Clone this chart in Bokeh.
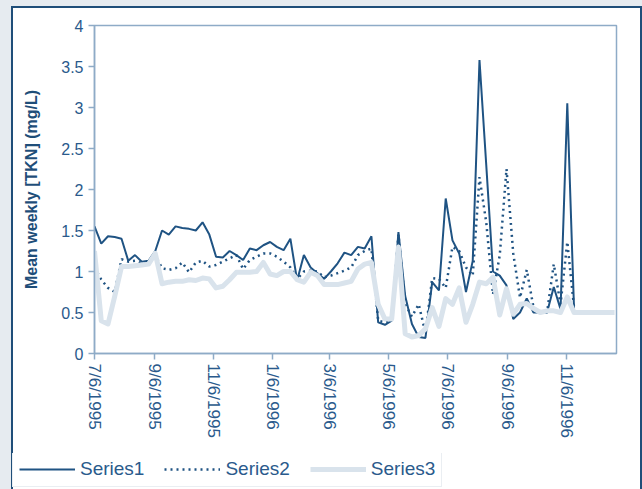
import pandas as pd
from bokeh.plotting import figure
from bokeh.layouts import column
from bokeh.models import Range1d, FixedTicker, Legend, LegendItem, ColumnDataSource
from bokeh.embed import file_html
from bokeh.resources import INLINE

# ---------------- data ----------------
start_date = "1995-07-06"
n_weeks = 78
tick_labels = ["7/6/1995", "9/6/1995", "11/6/1995", "1/6/1996", "3/6/1996",
               "5/6/1996", "7/6/1996", "9/6/1996", "11/6/1996"]
y_ticks = [0, 0.5, 1, 1.5, 2, 2.5, 3, 3.5, 4]
y_tick_labels = ["0", "0.5", "1", "1.5", "2", "2.5", "3", "3.5", "4"]
series_names = ["Series1", "Series2", "Series3"]

series1 = [1.55, 1.34, 1.43, 1.42, 1.40, 1.13, 1.20, 1.12, 1.13, 1.25,
           1.50, 1.45, 1.55, 1.53, 1.52, 1.50, 1.60, 1.45, 1.18, 1.17,
           1.25, 1.20, 1.14, 1.28, 1.26, 1.32, 1.36, 1.30, 1.26, 1.40,
           0.89, 1.20, 1.05, 0.98, 0.91, 1.00, 1.10, 1.23, 1.20, 1.30,
           1.28, 1.43, 0.38, 0.35, 0.40, 1.48, 0.70, 0.36, 0.20, 0.19,
           0.87, 0.77, 1.89, 1.38, 1.22, 0.75, 1.13, 3.58, 2.30, 1.00,
           0.95, 0.83, 0.42, 0.50, 0.67, 0.50, 0.50, 0.50, 0.81, 0.54,
           3.05, 0.54]
series2 = [1.05, 0.90, 0.80, 0.75, 1.15, 1.12, 1.13, 1.10, 1.12, 1.20,
           1.04, 1.02, 1.04, 1.11, 0.99, 1.11, 1.13, 1.06, 1.08, 1.12,
           1.16, 1.20, 1.03, 1.14, 1.18, 1.22, 1.22, 1.18, 1.12, 1.05,
           0.91, 1.00, 1.01, 1.00, 0.93, 0.95, 0.98, 1.01, 1.05, 1.20,
           1.25, 1.28, 0.40, 0.38, 0.40, 1.45, 0.60, 0.45, 0.60, 0.25,
           0.92, 0.91, 0.80, 1.30, 1.25, 1.05, 0.95, 2.15, 1.60, 0.72,
           1.20, 2.25, 1.22, 0.68, 1.02, 0.56, 0.50, 0.50, 1.09, 0.60,
           1.36, 0.56]
series3 = [1.25, 0.40, 0.36, 0.70, 1.06, 1.06, 1.07, 1.08, 1.09, 1.22,
           0.85, 0.87, 0.88, 0.88, 0.90, 0.89, 0.92, 0.91, 0.80, 0.82,
           0.90, 0.99, 0.99, 0.99, 1.00, 1.11, 0.97, 0.95, 1.00, 1.00,
           0.90, 0.87, 0.99, 0.95, 0.84, 0.84, 0.84, 0.86, 0.88, 1.03,
           1.09, 1.11, 0.60, 0.42, 0.42, 1.30, 0.24, 0.20, 0.22, 0.30,
           0.56, 0.33, 0.67, 0.60, 0.80, 0.38, 0.60, 0.87, 0.85, 0.93,
           0.47, 0.79, 0.48, 0.60, 0.61, 0.55, 0.50, 0.52, 0.52, 0.50,
           0.69, 0.50, 0.50, 0.50, 0.50, 0.50, 0.50, 0.50]
x_end_date = "1996-12-28"

# ---------------- derived positions ----------------
t0 = pd.Timestamp(start_date)
dates = pd.date_range(start_date, periods=n_weeks, freq="7D")
xdays = [int((d - t0).days) for d in dates]
tick_days = [int((pd.to_datetime(t, format="%m/%d/%Y") - t0).days) for t in tick_labels]
x_end = int((pd.Timestamp(x_end_date) - t0).days)

TXT = "#2a5a8c"
AX = "#8eabc7"
DARK = "#1f5383"
LIGHT = "#d9e3ec"
FONT = "Liberation Sans"
styles = [dict(line_color=DARK, line_width=2),
          dict(line_color=DARK, line_width=2.5, line_dash="2 4"),
          dict(line_color=LIGHT, line_width=5, line_join="round")]

# ---------------- main chart ----------------
p = figure(width=642, height=453, output_backend="svg", toolbar_location=None,
           x_range=Range1d(0, x_end), y_range=Range1d(0, 4),
           min_border_left=94, min_border_right=26, min_border_top=25,
           min_border_bottom=100)
p.frame_align = False
p.background_fill_color = "white"
p.border_fill_color = None
p.outline_line_color = AX
p.outline_line_width = 1.5
p.grid.visible = False

for ys, st in zip([series1, series2, series3], styles):
    src = ColumnDataSource(dict(x=xdays[:len(ys)], y=ys))
    p.line("x", "y", source=src, **st)

p.xaxis.ticker = FixedTicker(ticks=tick_days)
p.xaxis.major_label_overrides = {d: t for d, t in zip(tick_days, tick_labels)}
p.xaxis.major_label_orientation = "vertical"
p.yaxis.ticker = FixedTicker(ticks=y_ticks)
p.yaxis.major_label_overrides = {v: t for v, t in zip(y_ticks, y_tick_labels)}
for ax in (p.xaxis, p.yaxis):
    ax.axis_line_color = AX
    ax.axis_line_width = 1.5
    ax.major_tick_line_color = AX
    ax.major_tick_line_width = 1.5
    ax.major_tick_out = 6
    ax.major_tick_in = 0
    ax.minor_tick_line_color = None
    ax.major_label_text_font = FONT
    ax.major_label_text_color = TXT
p.xaxis.major_label_text_font_size = "17px"
p.yaxis.major_label_text_font_size = "16px"
p.xaxis.major_label_standoff = 4
p.yaxis.major_label_standoff = 5
p.yaxis.axis_label = "Mean weekly [TKN] (mg/L)"
p.yaxis.axis_label_text_font = FONT
p.yaxis.axis_label_text_font_style = "bold"
p.yaxis.axis_label_text_font_size = "16px"
p.yaxis.axis_label_text_color = "#1f4e79"
p.yaxis.axis_label_standoff = 18

# ---------------- legend strip ----------------
q = figure(width=642, height=36, output_backend="svg", toolbar_location=None,
           x_range=Range1d(0, 1), y_range=Range1d(0, 1),
           x_axis_location=None, y_axis_location=None, min_border=0)
q.frame_align = False
q.background_fill_color = None
q.border_fill_color = None
q.outline_line_color = None
q.grid.visible = False
items = []
for name, st in zip(series_names, styles):
    r = q.line(x=[0, 1], y=[-5, -5], **st)
    items.append(LegendItem(label=name, renderers=[r]))
legend = Legend(items=items, location=(12, 2), orientation="horizontal")
legend.label_text_font = FONT
legend.label_text_font_size = "19px"
legend.label_text_color = TXT
legend.glyph_width = 56
legend.label_standoff = 5
legend.spacing = 20
legend.padding = 6
legend.margin = 0
legend.border_line_color = "#d6dee6"
legend.border_line_width = 1.5
legend.background_fill_color = "white"
legend.background_fill_alpha = 1.0
q.add_layout(legend)

page = column(p, q, spacing=0)
page.styles = {
    "background-color": "#ffffff",
    "box-shadow": "inset 11px 6px 0 0 #e6ebf0, inset 13px 8px 0 0 #1f4e79, "
                  "inset -2px 0 0 0 #1f4e79",
}

open("out.html", "w").write(file_html(page, INLINE))
